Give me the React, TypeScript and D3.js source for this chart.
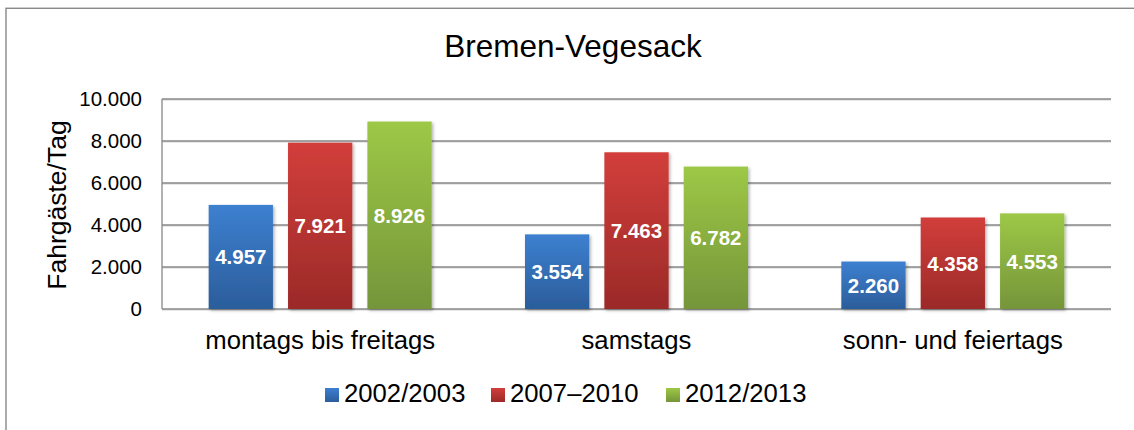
import React from "react";
import * as d3 from "d3";

const categories = ["montags bis freitags", "samstags", "sonn- und feiertags"];
const seriesNames = ["2002/2003", "2007–2010", "2012/2013"];
const values2002 = [4957, 3554, 2260];
const values2007 = [7921, 7463, 4358];
const values2012 = [8926, 6782, 4553];
const yTicks = [0, 2000, 4000, 6000, 8000, 10000];
const title = "Bremen-Vegesack";
const yLabel = "Fahrgäste/Tag";

const seriesValues = [values2002, values2007, values2012];
const gradients = [
  ["#3d80d0", "#2b5d9b"],
  ["#d23e3b", "#9b2a28"],
  ["#9dc846", "#75953a"],
];

const W = 1134;
const H = 430;
const plot = { left: 162, right: 1111, top: 99, bottom: 309 };
const FONT = "Arial, 'Liberation Sans', Helvetica, sans-serif";

const locale = d3.formatLocale({ decimal: ",", thousands: ".", grouping: [3], currency: ["", "€"] });
const fmt = locale.format(",.0f");

export default function App() {
  const x0 = d3
    .scaleBand<string>()
    .domain(categories)
    .range([plot.left, plot.right])
    .paddingInner(0.295)
    .paddingOuter(0.1475);
  const x1 = d3
    .scaleBand<number>()
    .domain([0, 1, 2])
    .range([0, x0.bandwidth()])
    .paddingInner(0.19)
    .paddingOuter(0);
  const y = d3.scaleLinear().domain([0, 10000]).range([plot.bottom, plot.top]);

  const legendX = [325, 491, 666];

  return (
    <svg
      width={W}
      height={H}
      style={{ position: "absolute", left: 0, top: 0, background: "#fff" }}
      fontFamily={FONT}
    >
      <defs>
        {gradients.map((g, i) => (
          <linearGradient key={i} id={`grad${i}`} x1="0" y1="0" x2="0" y2="1">
            <stop offset="0%" stopColor={g[0]} />
            <stop offset="100%" stopColor={g[1]} />
          </linearGradient>
        ))}
        <filter id="shadow" x="-20%" y="-20%" width="140%" height="140%">
          <feDropShadow dx="1.5" dy="1.5" stdDeviation="1.5" floodColor="#000" floodOpacity="0.3" />
        </filter>
      </defs>
      <rect x={6} y={8} width={W} height={H} fill="#fff" stroke="#bdbdbd" strokeWidth={1.5} />
      <rect x={6} y={8.5} width={W} height={H} fill="none" stroke="#8a8a8a" strokeWidth={1} />

      <text x={573} y={57} textAnchor="middle" fontSize={31.5} fill="#000">
        {title}
      </text>

      {yTicks.map((t) => (
        <g key={t}>
          <line x1={plot.left} x2={plot.right} y1={y(t) + 1} y2={y(t) + 1} stroke="#d0d0d0" strokeWidth={1} />
          <line x1={plot.left} x2={plot.right} y1={y(t)} y2={y(t)} stroke="#878787" strokeWidth={1.3} />
          <text x={142} y={y(t)} dy="0.35em" textAnchor="end" fontSize={20.5} fill="#000">
            {t === 0 ? "0" : fmt(t)}
          </text>
        </g>
      ))}
      <line x1={plot.left} x2={plot.left} y1={plot.top} y2={plot.bottom} stroke="#878787" strokeWidth={1.3} />

      <text
        transform={`translate(66,${(118 + 292) / 2}) rotate(-90)`}
        textAnchor="middle"
        fontSize={26.5}
        fill="#000"
      >
        {yLabel}
      </text>

      {categories.map((c, ci) => (
        <g key={c} transform={`translate(${x0(c)},0)`}>
          {seriesValues.map((vals, si) => {
            const bx = x1(si)!;
            const by = y(vals[ci]);
            const bh = y(0) - by;
            return (
              <g key={si}>
                <rect
                  x={bx}
                  y={by}
                  width={x1.bandwidth()}
                  height={bh}
                  fill={`url(#grad${si})`}
                  filter="url(#shadow)"
                />
                <text
                  x={bx + x1.bandwidth() / 2}
                  y={by + bh / 2}
                  dy="0.36em"
                  textAnchor="middle"
                  fontSize={20.5}
                  fontWeight="bold"
                  fill="#fff"
                >
                  {fmt(vals[ci])}
                </text>
              </g>
            );
          })}
          <text x={x0.bandwidth() / 2} y={349} textAnchor="middle" fontSize={25.7} fill="#000">
            {c}
          </text>
        </g>
      ))}

      {seriesNames.map((s, i) => (
        <g key={s}>
          <rect x={legendX[i]} y={388} width={14} height={14} fill={`url(#grad${i})`} />
          <text x={legendX[i] + 19} y={402} fontSize={25.7} fill="#000">
            {s}
          </text>
        </g>
      ))}
    </svg>
  );
}
